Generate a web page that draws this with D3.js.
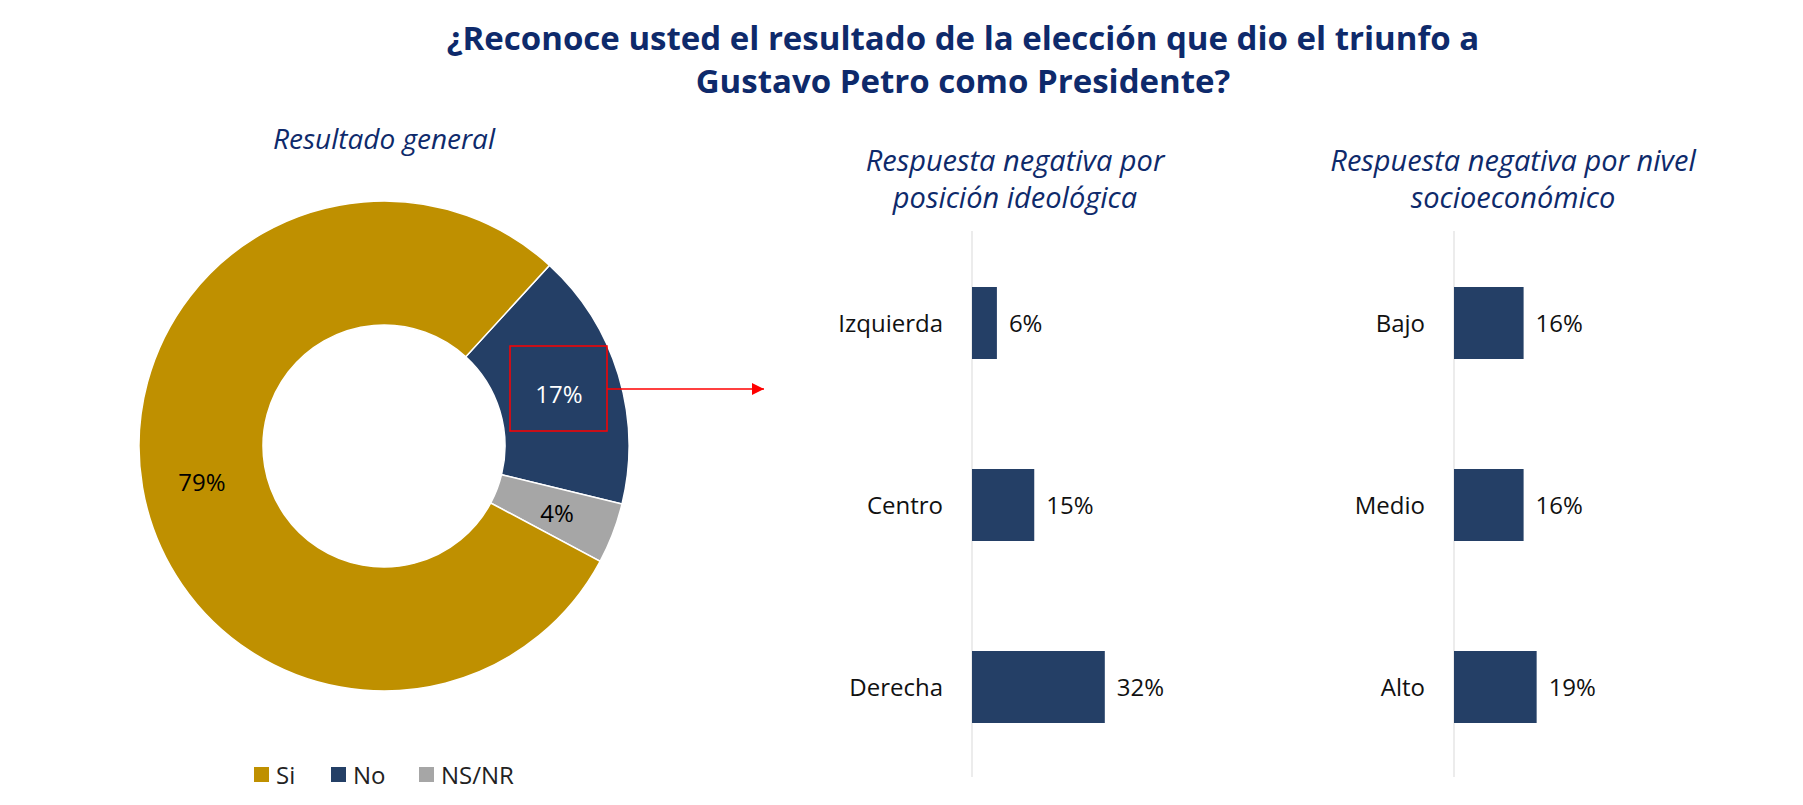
<!DOCTYPE html><html><head><meta charset="utf-8"><script src="https://cdn.jsdelivr.net/npm/d3@7"></script>
<style>body{margin:0;background:#fff}text{font-family:"Open Sans",sans-serif}</style></head><body><svg id="c" width="1803" height="805"></svg>
<script>
const pieLabels=["No","NS/NR","Si"];
const pieValues=[17,4,79];
const pieColors=["#243f66","#a6a6a6","#bf9000"];
const legendOrder=["Si","No","NS/NR"];
const ideoCats=["Izquierda","Centro","Derecha"];
const ideoVals=[6,15,32];
const nseCats=["Bajo","Medio","Alto"];
const nseVals=[16,16,19];
const svg=d3.select("#c");
const navy="#0e2a6b";
svg.append("text").attr("x",963).attr("y",50).attr("text-anchor","middle").attr("font-size",33).attr("font-weight","bold").attr("fill",navy).text("¿Reconoce usted el resultado de la elección que dio el triunfo a");
svg.append("text").attr("x",963).attr("y",93).attr("text-anchor","middle").attr("font-size",33).attr("font-weight","bold").attr("fill",navy).text("Gustavo Petro como Presidente?");
svg.append("text").attr("x",384).attr("y",149).attr("text-anchor","middle").attr("font-size",28).attr("font-style","italic").attr("fill",navy).text("Resultado general");
const cx=384,cy=446;
const pie=d3.pie().sort(null).startAngle(42.5*Math.PI/180).endAngle(42.5*Math.PI/180+2*Math.PI);
const arc=d3.arc().innerRadius(121).outerRadius(245);
const g=svg.append("g").attr("transform",`translate(${cx},${cy})`);
const arcs=pie(pieValues);
g.selectAll("path").data(arcs).join("path").attr("d",arc).attr("fill",(d,i)=>pieColors[i]).attr("stroke","#fff").attr("stroke-width",1.5);
const labelPos=[[559,394,"#fff"],[557,513,"#000"],[202,482,"#000"]];
arcs.forEach((d,i)=>{svg.append("text").attr("x",labelPos[i][0]).attr("y",labelPos[i][1]+9).attr("text-anchor","middle").attr("font-size",24).attr("fill",labelPos[i][2]).text(pieValues[i]+"%");});
svg.append("rect").attr("x",510).attr("y",346).attr("width",97).attr("height",85).attr("fill","none").attr("stroke","#ff0000").attr("stroke-width",1.5);
svg.append("defs").append("marker").attr("id","ah").attr("viewBox","0 0 10 10").attr("refX",10).attr("refY",5).attr("markerWidth",8).attr("markerHeight",8).attr("orient","auto").append("path").attr("d","M0,0L10,5L0,10z").attr("fill","#ff0000");
svg.append("line").attr("x1",607).attr("y1",389).attr("x2",764).attr("y2",389).attr("stroke","#ff0000").attr("stroke-width",1.5).attr("marker-end","url(#ah)");
const lg=svg.append("g");
const lx={"Si":254,"No":331,"NS/NR":419};
legendOrder.forEach(k=>{const i=pieLabels.indexOf(k);lg.append("rect").attr("x",lx[k]).attr("y",767).attr("width",15).attr("height",15).attr("fill",pieColors[i]);lg.append("text").attr("x",lx[k]+22).attr("y",784).attr("font-size",24).attr("fill","#222").text(k);});
function bars(cats,vals,x0,pxPer,titleX,t1,t2){
  svg.append("text").attr("x",titleX).attr("y",171).attr("text-anchor","middle").attr("font-size",29).attr("font-style","italic").attr("fill",navy).text(t1);
  svg.append("text").attr("x",titleX).attr("y",208).attr("text-anchor","middle").attr("font-size",29).attr("font-style","italic").attr("fill",navy).text(t2);
  const x=d3.scaleLinear().domain([0,1]).range([x0,x0+pxPer]);
  const y=d3.scalePoint().domain(cats).range([323,687]);
  const h=72;
  svg.append("line").attr("x1",x0).attr("x2",x0).attr("y1",231).attr("y2",777).attr("stroke","#d9d9d9");
  cats.forEach((c,i)=>{
    svg.append("rect").attr("x",x(0)).attr("y",y(c)-h/2).attr("width",x(vals[i])-x(0)).attr("height",h).attr("fill","#243f66");
    svg.append("text").attr("x",x(vals[i])+12).attr("y",y(c)+9).attr("font-size",24).attr("fill","#111").text(vals[i]+"%");
    svg.append("text").attr("x",x0-29).attr("y",y(c)+9).attr("text-anchor","end").attr("font-size",24).attr("fill","#111").text(c);
  });
}
bars(ideoCats,ideoVals,972,4.15,1015,"Respuesta negativa por","posición ideológica");
bars(nseCats,nseVals,1454,4.35,1513,"Respuesta negativa por nivel","socioeconómico");
</script></body></html>
